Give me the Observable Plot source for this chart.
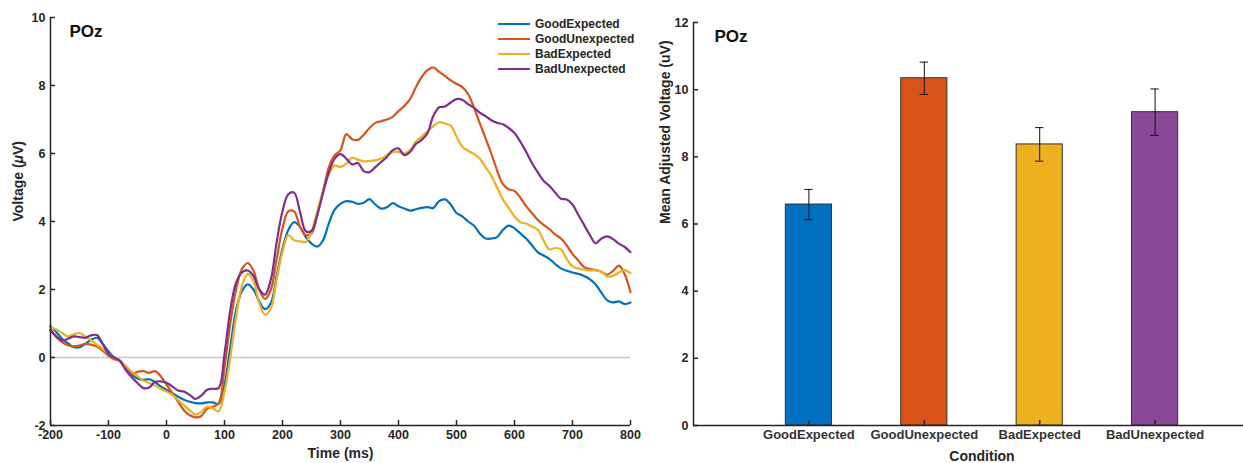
<!DOCTYPE html>
<html>
<head>
<meta charset="utf-8">
<script src="https://cdn.jsdelivr.net/npm/d3@7"></script>
<script src="https://cdn.jsdelivr.net/npm/@observablehq/plot@0.6"></script>
<style>
  html, body { margin: 0; padding: 0; overflow: hidden; background: #fff; }
  #wrap { position: relative; width: 1243px; height: 463px; overflow: hidden; font-family: "Liberation Sans", Arial, sans-serif; }
  #wrap svg.panel { position: absolute; top: 0; }
  #legend { position: absolute; left: 498px; top: 17px; font: bold 12px "Liberation Sans", Arial, sans-serif; color: #262626; }
  #legend .row { display: flex; align-items: center; height: 14.8px; }
  #legend .sw { width: 32px; height: 2.2px; margin-right: 5px; }
</style>
</head>
<body>
<div id="wrap"></div>
<script>
// ---------- data ----------
const conditions = ["GoodExpected", "GoodUnexpected", "BadExpected", "BadUnexpected"];
const lineColors = ["#0072BD", "#D95319", "#EDB120", "#7E2F8E"];
const barColors = ["#0070C0", "#D95319", "#EDB120", "#8A4899"];

const time = d3.range(-200, 801, 10);

const goodExpected = [
  0.92, 0.75, 0.55, 0.42, 0.30, 0.30, 0.40, 0.52, 0.58, 0.40,
  0.18, 0.00, -0.10, -0.30, -0.50, -0.62, -0.66, -0.64, -0.72, -0.85,
  -0.95, -1.05, -1.15, -1.24, -1.30, -1.34, -1.35, -1.32, -1.32, -1.36,
  -0.80, 0.30, 1.40, 1.95, 2.15, 2.00, 1.65, 1.42, 1.60, 2.40,
  3.20, 3.75, 3.98, 3.85, 3.55, 3.35, 3.26, 3.45, 3.95, 4.35,
  4.52, 4.60, 4.58, 4.52, 4.55, 4.66, 4.50, 4.38, 4.42, 4.54,
  4.45, 4.38, 4.32, 4.36, 4.40, 4.42, 4.40, 4.60, 4.65, 4.50,
  4.25, 4.15, 4.00, 3.88, 3.65, 3.50, 3.50, 3.54, 3.75, 3.88,
  3.80, 3.65, 3.50, 3.30, 3.10, 3.00, 2.90, 2.75, 2.62, 2.55,
  2.50, 2.46, 2.40, 2.30, 2.15, 1.90, 1.68, 1.62, 1.65, 1.57,
  1.62
];
const goodUnexpected = [
  0.82, 0.60, 0.45, 0.36, 0.33, 0.35, 0.40, 0.38, 0.32, 0.20,
  0.05, -0.05, -0.12, -0.35, -0.50, -0.42, -0.40, -0.45, -0.40, -0.55,
  -0.80, -1.05, -1.30, -1.55, -1.70, -1.76, -1.72, -1.50, -1.45, -1.35,
  -0.30, 1.00, 2.00, 2.60, 2.78, 2.55, 2.00, 1.72, 2.00, 2.90,
  3.80, 4.30, 4.30, 3.85, 3.60, 3.65, 4.20, 4.90, 5.60, 5.95,
  6.10, 6.57, 6.42, 6.40, 6.55, 6.75, 6.90, 6.95, 7.00, 7.08,
  7.25, 7.40, 7.60, 7.95, 8.25, 8.45, 8.53, 8.40, 8.28, 8.15,
  8.05, 7.95, 7.75, 7.35, 6.90, 6.45, 6.00, 5.50, 5.10, 4.95,
  4.90, 4.70, 4.45, 4.25, 4.05, 3.90, 3.78, 3.62, 3.50, 3.30,
  3.05, 2.85, 2.66, 2.60, 2.57, 2.52, 2.44, 2.55, 2.70, 2.45,
  1.92
];
const badExpected = [
  0.88, 0.82, 0.72, 0.62, 0.68, 0.72, 0.62, 0.50, 0.38, 0.25,
  0.10, 0.00, -0.12, -0.25, -0.42, -0.55, -0.68, -0.75, -0.82, -0.92,
  -1.00, -1.10, -1.25, -1.40, -1.55, -1.68, -1.60, -1.45, -1.50, -1.58,
  -1.00, 0.00, 1.20, 2.10, 2.46, 2.25, 1.60, 1.26, 1.45, 2.30,
  3.10, 3.60, 3.45, 3.42, 3.40, 3.70, 4.30, 4.90, 5.40, 5.65,
  5.60, 5.70, 5.88, 5.82, 5.77, 5.78, 5.80, 5.85, 5.95, 6.04,
  6.05, 6.00, 6.10, 6.35, 6.50, 6.65, 6.80, 6.92, 6.88, 6.82,
  6.50, 6.20, 6.08, 5.99, 5.85, 5.60, 5.35, 5.00, 4.65, 4.40,
  4.15, 3.98, 3.94, 3.85, 3.76, 3.45, 3.18, 3.22, 3.18, 2.90,
  2.68, 2.62, 2.58, 2.56, 2.56, 2.52, 2.38, 2.40, 2.50, 2.57,
  2.48
];
const badUnexpected = [
  0.80, 0.62, 0.50, 0.55, 0.62, 0.60, 0.58, 0.65, 0.66, 0.40,
  0.10, 0.00, -0.10, -0.38, -0.58, -0.75, -0.90, -0.88, -0.72, -0.70,
  -0.74, -0.85, -0.97, -1.00, -1.10, -1.22, -1.12, -0.95, -0.92, -0.90,
  0.10, 1.40, 2.20, 2.50, 2.56, 2.40, 2.00, 1.85, 2.30, 3.40,
  4.30, 4.80, 4.85, 4.30, 3.72, 3.72, 4.20, 4.85, 5.45, 5.85,
  5.98, 5.85, 5.68, 5.72, 5.48, 5.45, 5.60, 5.75, 5.90, 6.10,
  6.15, 5.95, 6.05, 6.28, 6.40, 6.60, 7.10, 7.36, 7.38, 7.50,
  7.60, 7.58, 7.45, 7.35, 7.20, 7.10, 6.98, 6.90, 6.86, 6.75,
  6.60, 6.35, 6.05, 5.72, 5.45, 5.20, 5.05, 4.85, 4.67, 4.65,
  4.50, 4.20, 3.90, 3.60, 3.36, 3.50, 3.56, 3.48, 3.35, 3.25,
  3.10
];

const meanVoltage = [6.58, 10.34, 8.37, 9.33];
const errorSize = [0.45, 0.48, 0.50, 0.69];

const timeTicks = d3.range(-200, 801, 100);
const voltTicks = [-2, 0, 2, 4, 6, 8, 10];
const barTicks = [0, 2, 4, 6, 8, 10, 12];

// ---------- tables ----------
const seriesValues = [goodExpected, goodUnexpected, badExpected, badUnexpected];
const erp = [];
conditions.forEach((c, k) => {
  time.forEach((t, j) => erp.push({cond: c, t, v: seriesValues[k][j]}));
});
const bars = conditions.map((c, k) => ({cond: c, i: k + 1, mean: meanVoltage[k], err: errorSize[k]}));

const FONT = '"Liberation Sans", Arial, sans-serif';
const INK = "#262626";

// ---------- left panel ----------
const left = Plot.plot({
  width: 640, height: 463,
  marginLeft: 50, marginRight: 10, marginTop: 17, marginBottom: 38,
  x: {domain: [-200, 800]},
  y: {domain: [-2, 10]},
  color: {domain: conditions, range: lineColors},
  style: {fontFamily: FONT, fontSize: "12px", color: INK, background: "transparent", overflow: "visible"},
  marks: [
    Plot.ruleY([0], {stroke: "#c8c8c8", strokeWidth: 1.5}),
    Plot.line(erp, {x: "t", y: "v", z: "cond", stroke: "cond", strokeWidth: 2.2, curve: "catmull-rom"}),
    Plot.ruleX([-200], {stroke: INK, strokeWidth: 1.5}),
    Plot.ruleY([-2], {stroke: INK, strokeWidth: 1.5}),
    Plot.axisX({ticks: timeTicks, tickSize: -5, tickPadding: 10, tickFormat: d => String(d), label: null, fontWeight: "bold", fontSize: 12.5, strokeWidth: 1.5}),
    Plot.axisY({ticks: voltTicks, tickSize: -5, tickPadding: 10, tickFormat: d => String(d), label: null, fontWeight: "bold", fontSize: 12.5, strokeWidth: 1.5}),
    Plot.text(["Time (ms)"], {text: d => d, frameAnchor: "bottom", dy: 28, lineAnchor: "middle", fontWeight: "bold", fontSize: 14}),
    Plot.text(["Voltage (μV)"], {text: d => d, frameAnchor: "left", dx: -32, rotate: -90, lineAnchor: "middle", fontWeight: "bold", fontSize: 14}),
    Plot.text(["POz"], {text: d => d, frameAnchor: "top-left", dx: 19, dy: 7, lineAnchor: "top", textAnchor: "start", fontWeight: "bold", fontSize: 17, fill: "#111"})
  ]
});
left.classList.add("panel");
left.style.left = "0px";

// italic mu
left.querySelectorAll("text").forEach(el => {
  if (el.textContent === "Voltage (μV)") {
    el.innerHTML = 'Voltage (<tspan font-style="italic">μ</tspan>V)';
  }
});

// ---------- right panel ----------
const right = Plot.plot({
  width: 640, height: 463,
  marginLeft: 53, marginRight: 10, marginTop: 22, marginBottom: 38,
  x: {domain: [0, 5]},
  y: {domain: [0, 12]},
  color: {domain: conditions, range: barColors},
  style: {fontFamily: FONT, fontSize: "12px", color: INK, background: "transparent", overflow: "visible"},
  marks: [
    Plot.rectY(bars, {x1: d => d.i - 0.2, x2: d => d.i + 0.2, y1: 0, y2: "mean", fill: "cond", stroke: "#333", strokeWidth: 1}),
    Plot.ruleX(bars, {x: "i", y1: d => d.mean - d.err, y2: d => d.mean + d.err, stroke: "#111", strokeWidth: 1}),
    Plot.ruleY(bars, {y: d => d.mean + d.err, x1: d => d.i - 0.036, x2: d => d.i + 0.036, stroke: "#111", strokeWidth: 1}),
    Plot.ruleY(bars, {y: d => d.mean - d.err, x1: d => d.i - 0.036, x2: d => d.i + 0.036, stroke: "#111", strokeWidth: 1}),
    Plot.ruleX([0], {stroke: INK, strokeWidth: 1.5}),
    Plot.ruleY([0], {stroke: INK, strokeWidth: 1.5}),
    Plot.axisX({ticks: [1, 2, 3, 4], tickSize: -5, tickPadding: 9, tickFormat: i => conditions[i - 1], label: null, fontWeight: "bold", fontSize: 13, fill: "#333", strokeWidth: 1.5}),
    Plot.axisY({ticks: barTicks, tickSize: -5, tickPadding: 10, tickFormat: d => String(d), label: null, fontWeight: "bold", fontSize: 12.5, strokeWidth: 1.5}),
    Plot.text(["Condition"], {text: d => d, frameAnchor: "bottom", dy: 31, lineAnchor: "middle", fontWeight: "bold", fontSize: 14}),
    Plot.text(["Mean Adjusted Voltage (uV)"], {text: d => d, frameAnchor: "left", dx: -28, rotate: -90, lineAnchor: "middle", fontWeight: "bold", fontSize: 14}),
    Plot.text(["POz"], {text: d => d, frameAnchor: "top-left", dx: 21, dy: 7, lineAnchor: "top", textAnchor: "start", fontWeight: "bold", fontSize: 17, fill: "#111"})
  ]
});
right.classList.add("panel");
right.style.left = "640px";

const wrap = document.getElementById("wrap");
wrap.appendChild(left);
wrap.appendChild(right);

// ---------- legend ----------
const legend = document.createElement("div");
legend.id = "legend";
conditions.forEach((c, k) => {
  const row = document.createElement("div");
  row.className = "row";
  const sw = document.createElement("span");
  sw.className = "sw";
  sw.style.background = lineColors[k];
  const lab = document.createElement("span");
  lab.textContent = c;
  row.appendChild(sw);
  row.appendChild(lab);
  legend.appendChild(row);
});
wrap.appendChild(legend);
</script>
</body>
</html>
